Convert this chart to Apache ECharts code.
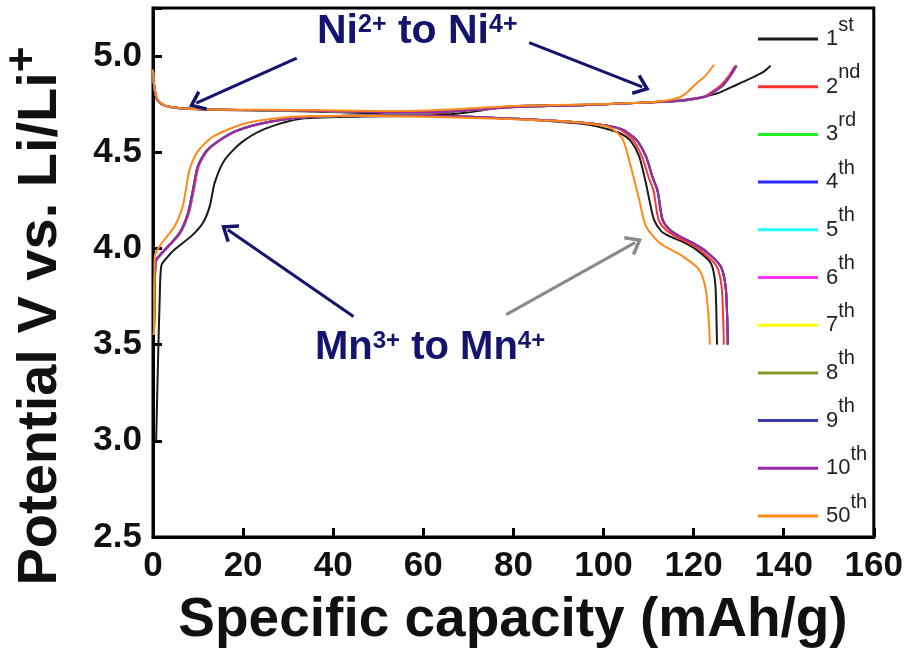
<!DOCTYPE html>
<html>
<head>
<meta charset="utf-8">
<script src="https://cdn.jsdelivr.net/npm/echarts@6.0.0/dist/echarts.min.js"></script>
<style>
  html, body { margin: 0; padding: 0; background: #fff; }
  #main { width: 906px; height: 653px; }
</style>
</head>
<body>
<div id="main"></div>
<script>
// cycle labels and colours
const cycleNames = ['1st', '2nd', '3rd', '4th', '5th', '6th', '7th', '8th', '9th', '10th', '50th'];
const cycleColors = ['#1a1a1a', '#ff3333', '#22ee22', '#2b2bff', '#22ffff', '#ff33ff', '#ffff00', '#8c9a2c', '#3a3aa8', '#9a2aa8', '#ff8a1a'];

// [capacity mAh/g, potential V]
const charge1 = [[0,4.90],[0.3,4.82],[1,4.77],[3,4.74],[6,4.728],[15,4.72],[30,4.715],[45,4.706],[55,4.697],[66,4.698],[72,4.714],[79,4.738],[90,4.745],[100,4.75],[108,4.757],[115,4.764],[119,4.772],[122.7,4.79],[125.7,4.81],[128.5,4.84],[132.3,4.88],[135.3,4.915],[137.1,4.95]];
const discharge1 = [[0.7,3.0],[1.1,3.4],[1.5,3.75],[1.85,3.91],[3,3.95],[4.8,3.995],[8.5,4.064],[11.1,4.134],[12.6,4.22],[13.7,4.342],[15.9,4.46],[19.6,4.55],[24.7,4.62],[32.1,4.672],[45,4.685],[60,4.688],[75,4.68],[88,4.662],[96,4.645],[101,4.62],[104,4.595],[106,4.56],[107.9,4.48],[109.4,4.34],[110.2,4.25],[111.2,4.15],[112.8,4.09],[114.6,4.064],[117.5,4.035],[120.5,3.995],[123.8,3.925],[124.8,3.82],[125.1,3.613],[125.2,3.5]];

const charge2 = [[0,4.92],[0.3,4.84],[1,4.77],[3,4.74],[10.4,4.724],[30,4.718],[45,4.711],[55,4.706],[66,4.71],[80,4.734],[95,4.745],[108,4.757],[115,4.765],[119,4.776],[122.5,4.792],[124.3,4.818],[126.1,4.85],[127.9,4.90],[129.2,4.95]];
const discharge2 = [[0.2,3.55],[0.35,3.75],[0.5,3.9],[0.8,3.94],[3.5,4.01],[6.1,4.08],[8,4.186],[9.1,4.307],[10.2,4.43],[12.4,4.516],[17.6,4.60],[23.5,4.646],[32.3,4.68],[45,4.69],[60,4.69],[75,4.68],[88,4.664],[99,4.643],[103.5,4.62],[106.4,4.567],[108.5,4.48],[110,4.37],[111.1,4.3],[112.2,4.15],[113.7,4.1],[115.9,4.064],[118.8,4.03],[121.8,3.986],[125.1,3.908],[126.2,3.804],[126.6,3.613],[126.7,3.5]];

// cycles 3rd-10th lie on top of each other
const chargeMid = [[0,4.92],[0.3,4.84],[1,4.77],[3,4.74],[10.4,4.724],[30,4.718],[45,4.712],[55,4.708],[66,4.712],[80,4.735],[95,4.745],[108,4.757],[115,4.765],[119,4.775],[122.7,4.79],[124.5,4.815],[126.4,4.845],[128.2,4.90],[129.5,4.95]];
const dischargeMid = [[0.2,3.55],[0.35,3.75],[0.5,3.9],[0.7,3.94],[3.3,4.01],[5.9,4.08],[7.8,4.186],[8.9,4.307],[10,4.43],[12.2,4.516],[17.4,4.60],[23.3,4.646],[32.1,4.68],[45,4.69],[60,4.69],[75,4.68],[88,4.665],[99,4.645],[104,4.62],[107.2,4.567],[109.4,4.48],[110.9,4.37],[112,4.3],[113.1,4.15],[114.6,4.1],[116.8,4.064],[119.7,4.03],[122.7,3.986],[126,3.908],[127.1,3.804],[127.5,3.613],[127.6,3.5]];

const charge50 = [[0,4.93],[0.3,4.84],[1,4.776],[3,4.74],[10.4,4.724],[30,4.72],[45,4.716],[55,4.714],[66,4.722],[80,4.74],[95,4.748],[105,4.755],[110,4.76],[113.5,4.768],[116.8,4.785],[118.5,4.81],[120.5,4.855],[122.7,4.90],[124.5,4.955]];
const discharge50 = [[0.2,3.55],[0.3,3.75],[0.4,3.96],[2,4.03],[4.8,4.116],[6.6,4.22],[7.4,4.32],[8.1,4.41],[10,4.507],[13.6,4.585],[21,4.653],[32.1,4.686],[45,4.69],[60,4.685],[75,4.676],[88,4.665],[96,4.652],[101.3,4.63],[104.2,4.57],[106,4.43],[107.9,4.255],[109.4,4.116],[112.4,4.03],[117.5,3.96],[121.2,3.89],[122.7,3.786],[123.4,3.613],[123.6,3.5]];

const cycleData = [
    [charge1, discharge1], [charge2, discharge2],
    [chargeMid, dischargeMid], [chargeMid, dischargeMid], [chargeMid, dischargeMid], [chargeMid, dischargeMid],
    [chargeMid, dischargeMid], [chargeMid, dischargeMid], [chargeMid, dischargeMid], [chargeMid, dischargeMid],
    [charge50, discharge50]
];

// annotation arrows, [from, to] in data units
const arrowsNi = [[[31.9, 4.99], [9.6, 4.755]], [[83.5, 5.07], [108.6, 4.84]]];
const arrowsMn = [[[44.5, 3.646], [16.6, 4.097]], [[78.4, 3.656], [107.0, 4.03]]];

const navy = '#14146e';
const chevron = 'path://M0,0 L11,15 L8,17 L0,6 L-8,17 L-11,15 Z';

let myChart = echarts.init(document.getElementById('main'));

let series = [];
cycleNames.forEach((name, i) => {
    cycleData[i].forEach(part => {
        series.push({
            name: name,
            type: 'line',
            data: part,
            color: cycleColors[i],
            itemStyle: { color: cycleColors[i] },
            lineStyle: { color: cycleColors[i], width: 2 },
            showSymbol: false,
            symbol: 'none',
            smooth: 0.25,
            silent: true
        });
    });
});

let arrowLine = (pair, color) => [
    { coord: pair[0], symbol: 'none', lineStyle: { color: color, width: 3, type: 'solid' } },
    { coord: pair[1], symbol: chevron, symbolSize: [22, 16] }
];
series[0].markLine = {
    silent: true,
    animation: false,
    label: { show: false },
    symbolSize: [22, 16],
    data: [
        arrowLine(arrowsNi[0], navy),
        arrowLine(arrowsNi[1], navy),
        arrowLine(arrowsMn[0], navy),
        arrowLine(arrowsMn[1], '#8a8a8a')
    ]
};

let supText = (base, sup) => '{a|' + base + '}{s|' + sup + '}';

option = {
    animation: false,
    backgroundColor: '#fff',
    grid: {
        left: 153, right: 31, top: 8, bottom: 116,
        show: true, borderColor: '#000', borderWidth: 3
    },
    xAxis: {
        type: 'value',
        min: 0, max: 160, interval: 20,
        axisLine: { lineStyle: { color: '#000', width: 3 } },
        axisTick: { inside: true, length: 9, lineStyle: { color: '#000', width: 3 } },
        splitLine: { show: false },
        axisLabel: {
            margin: 12,
            color: '#111',
            fontFamily: 'Liberation Sans, Arial',
            fontWeight: 'bold',
            fontSize: 35
        }
    },
    yAxis: {
        type: 'value',
        min: 2.5, max: 5.25, interval: 0.5,
        axisLine: { lineStyle: { color: '#000', width: 3 } },
        axisTick: { inside: true, length: 9, lineStyle: { color: '#000', width: 3 } },
        splitLine: { show: false },
        axisLabel: {
            margin: 11,
            color: '#111',
            fontFamily: 'Liberation Sans, Arial',
            fontWeight: 'bold',
            fontSize: 35,
            formatter: v => (v > 5.01 ? '' : v.toFixed(1))
        }
    },
    legend: {
        data: cycleNames,
        orient: 'vertical',
        left: 753,
        top: 10,
        icon: 'rect',
        itemWidth: 60,
        itemHeight: 3,
        itemGap: -0.3,
        selectedMode: false,
        formatter: name => {
            let m = name.match(/^(\d+)(\D+)$/);
            return '{n|' + m[1] + '}{s|' + m[2] + '}';
        },
        textStyle: {
            fontFamily: 'Liberation Sans, Arial',
            color: '#222',
            padding: [0, 0, 0, 3],
            rich: {
                n: { fontSize: 22, lineHeight: 40, color: '#222', verticalAlign: 'middle' },
                s: { fontSize: 20, lineHeight: 12, color: '#222', verticalAlign: 'middle', padding: [0, 0, 28, 0] }
            }
        }
    },
    graphic: [
        {
            type: 'text', x: 317, y: 32, z: 100,
            style: {
                text: supText('Ni', '2+') + '{a| to Ni}{s|4+}',
                align: 'left', verticalAlign: 'middle',
                rich: {
                    a: { fontFamily: 'Liberation Sans, Arial', fontWeight: 'bold', fontSize: 41, lineHeight: 44, fill: navy, verticalAlign: 'middle' },
                    s: { fontFamily: 'Liberation Sans, Arial', fontWeight: 'bold', fontSize: 25, lineHeight: 30, fill: navy, verticalAlign: 'middle', padding: [0, 0, 14, 0] }
                }
            }
        },
        {
            type: 'text', x: 315, y: 348, z: 100,
            style: {
                text: supText('Mn', '3+') + '{a| to Mn}{s|4+}',
                align: 'left', verticalAlign: 'middle',
                rich: {
                    a: { fontFamily: 'Liberation Sans, Arial', fontWeight: 'bold', fontSize: 40, lineHeight: 44, fill: navy, verticalAlign: 'middle' },
                    s: { fontFamily: 'Liberation Sans, Arial', fontWeight: 'bold', fontSize: 24, lineHeight: 30, fill: navy, verticalAlign: 'middle', padding: [0, 0, 14, 0] }
                }
            }
        },
        {
            type: 'text', x: 513, y: 621, z: 100,
            style: {
                text: 'Specific capacity (mAh/g)',
                fontFamily: 'Liberation Sans, Arial', fontWeight: 'bold', fontSize: 55,
                fill: '#111', align: 'center', verticalAlign: 'middle'
            }
        },
        {
            type: 'text', x: 41, y: 316, z: 100, rotation: Math.PI / 2,
            style: {
                text: supText('Potential V vs. Li/Li', '+'),
                align: 'center', verticalAlign: 'middle',
                rich: {
                    a: { fontFamily: 'Liberation Sans, Arial', fontWeight: 'bold', fontSize: 56, lineHeight: 64, fill: '#111', verticalAlign: 'middle' },
                    s: { fontFamily: 'Liberation Sans, Arial', fontWeight: 'bold', fontSize: 44, lineHeight: 30, fill: '#111', verticalAlign: 'middle', padding: [0, 0, 34, 0] }
                }
            }
        }
    ],
    series: series
};

myChart.setOption(option);
</script>
</body>
</html>
